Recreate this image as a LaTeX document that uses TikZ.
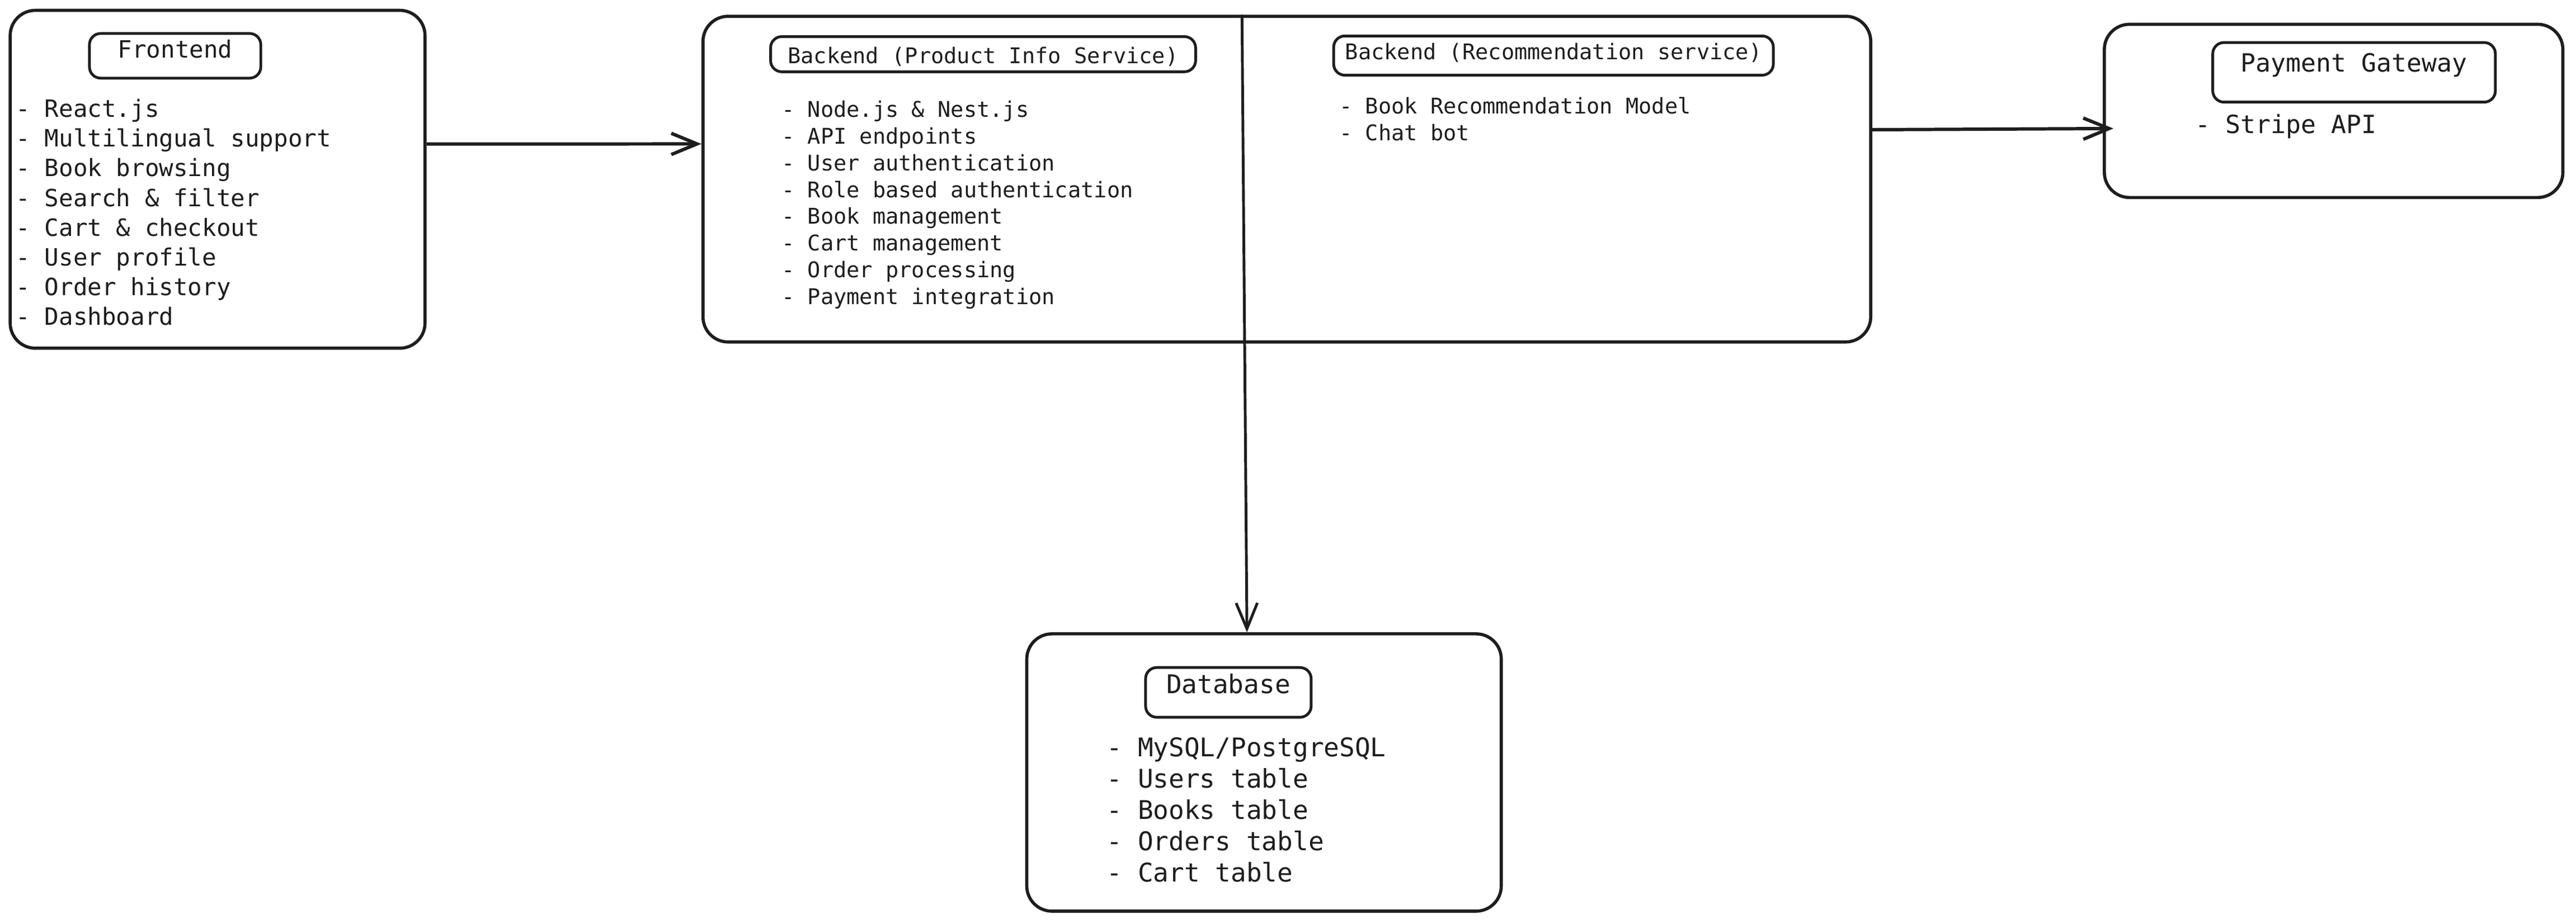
\documentclass[tikz,border=0pt]{standalone}
\usepackage{fontspec}
\setmonofont{DejaVu Sans Mono}
\usetikzlibrary{arrows.meta}
\definecolor{ink}{RGB}{30,30,30}

\begin{document}
\begin{tikzpicture}[x=0.2937mm, y=-0.2937mm, color=ink,
    >={Straight Barb[length=4.6mm, width=3.8mm]},
    outerbox/.style={draw, line width=1.6pt, rounded corners=4.5mm, inner sep=0pt},
    titlebox/.style={draw, line width=1.4pt, rounded corners=2mm, inner sep=0pt, anchor=base},
    itemlist/.style={inner sep=0pt, anchor=north west, align=left},
    link/.style={->, line width=1.7pt}]
    \path[use as bounding box, fill=white] (0,0) rectangle (1568,562.8);

    % the four blocks
    \node[outerbox, minimum width=74.16mm, minimum height=60.44mm] (frontend) at (132.45, 109.2) {};
    \node[outerbox, minimum width=208.76mm, minimum height=58.27mm] (backend) at (783.3, 109.1) {};
    \node[outerbox, minimum width=81.97mm, minimum height=30.99mm] (payment) at (1420.45, 67.55) {};
    \node[outerbox, minimum width=84.82mm, minimum height=49.61mm] (database) at (769.4, 470.55) {};

    % titles
    \node[titlebox, minimum width=30.63mm, text height=4.35mm, text depth=3.64mm,
          font=\ttfamily\fontsize{12.1}{15}\selectfont] (fronttitle) at (106.6, 35.2) {Frontend};
    \node[titlebox, minimum width=75.98mm, text height=4.85mm, text depth=1.44mm,
          font=\ttfamily\fontsize{11}{13.6}\selectfont] (prodtitle) at (598.4, 38.8) {Backend (Product Info Service)};
    \node[titlebox, minimum width=78.6mm, text height=4.26mm, text depth=2.76mm,
          font=\ttfamily\fontsize{11}{13.6}\selectfont] (rectitle) at (945.6, 36.4) {Backend (Recommendation service)};
    \node[titlebox, minimum width=50.52mm, text height=5.23mm, text depth=5.43mm,
          font=\ttfamily\fontsize{12.75}{16}\selectfont] (paytitle) at (1432.9, 43.7) {Payment Gateway};
    \node[titlebox, minimum width=29.6mm, text height=4.61mm, text depth=4.29mm,
          font=\ttfamily\fontsize{13.1}{16}\selectfont] (dbtitle) at (747.7, 422.3) {Database};

    % item lists
    \node[itemlist, font=\ttfamily\fontsize{12.1}{15.1}\selectfont] (frontitems) at (9.5, 58.55)
        {\strut- React.js\\- Multilingual support\\- Book browsing\\- Search \& filter\\- Cart \& checkout\\- User profile\\- Order history\\- Dashboard};
    \node[itemlist, font=\ttfamily\fontsize{11}{13.6}\selectfont] (proditems) at (475.5, 59.8)
        {\strut- Node.js \& Nest.js\\- API endpoints\\- User authentication\\- Role based authentication\\- Book management\\- Cart management\\- Order processing\\- Payment integration};
    \node[itemlist, font=\ttfamily\fontsize{11}{13.5}\selectfont] (recitems) at (815, 57.9)
        {\strut- Book Recommendation Model\\- Chat bot};
    \node[itemlist, anchor=base west, font=\ttfamily\fontsize{12.75}{16}\selectfont] (payitems) at (1336, 81.2)
        {- Stripe API};
    \node[itemlist, font=\ttfamily\fontsize{13.1}{15.96}\selectfont] (dbitems) at (673.5, 447.2)
        {\strut- MySQL/PostgreSQL\\- Users table\\- Books table\\- Orders table\\- Cart table};

    % connectors
    \draw
    ([yshift=6.3mm]frontend.east) edge[link] ([yshift=6.3mm]backend.west)
    ([yshift=8.84mm]backend.east) edge[link, shorten >=-1.9mm] ([yshift=-3.16mm]payment.west)
    ([xshift=-8.02mm]backend.north) edge[link, line width=1.4pt] ([xshift=-3.05mm]database.north);
\end{tikzpicture}
\end{document}
